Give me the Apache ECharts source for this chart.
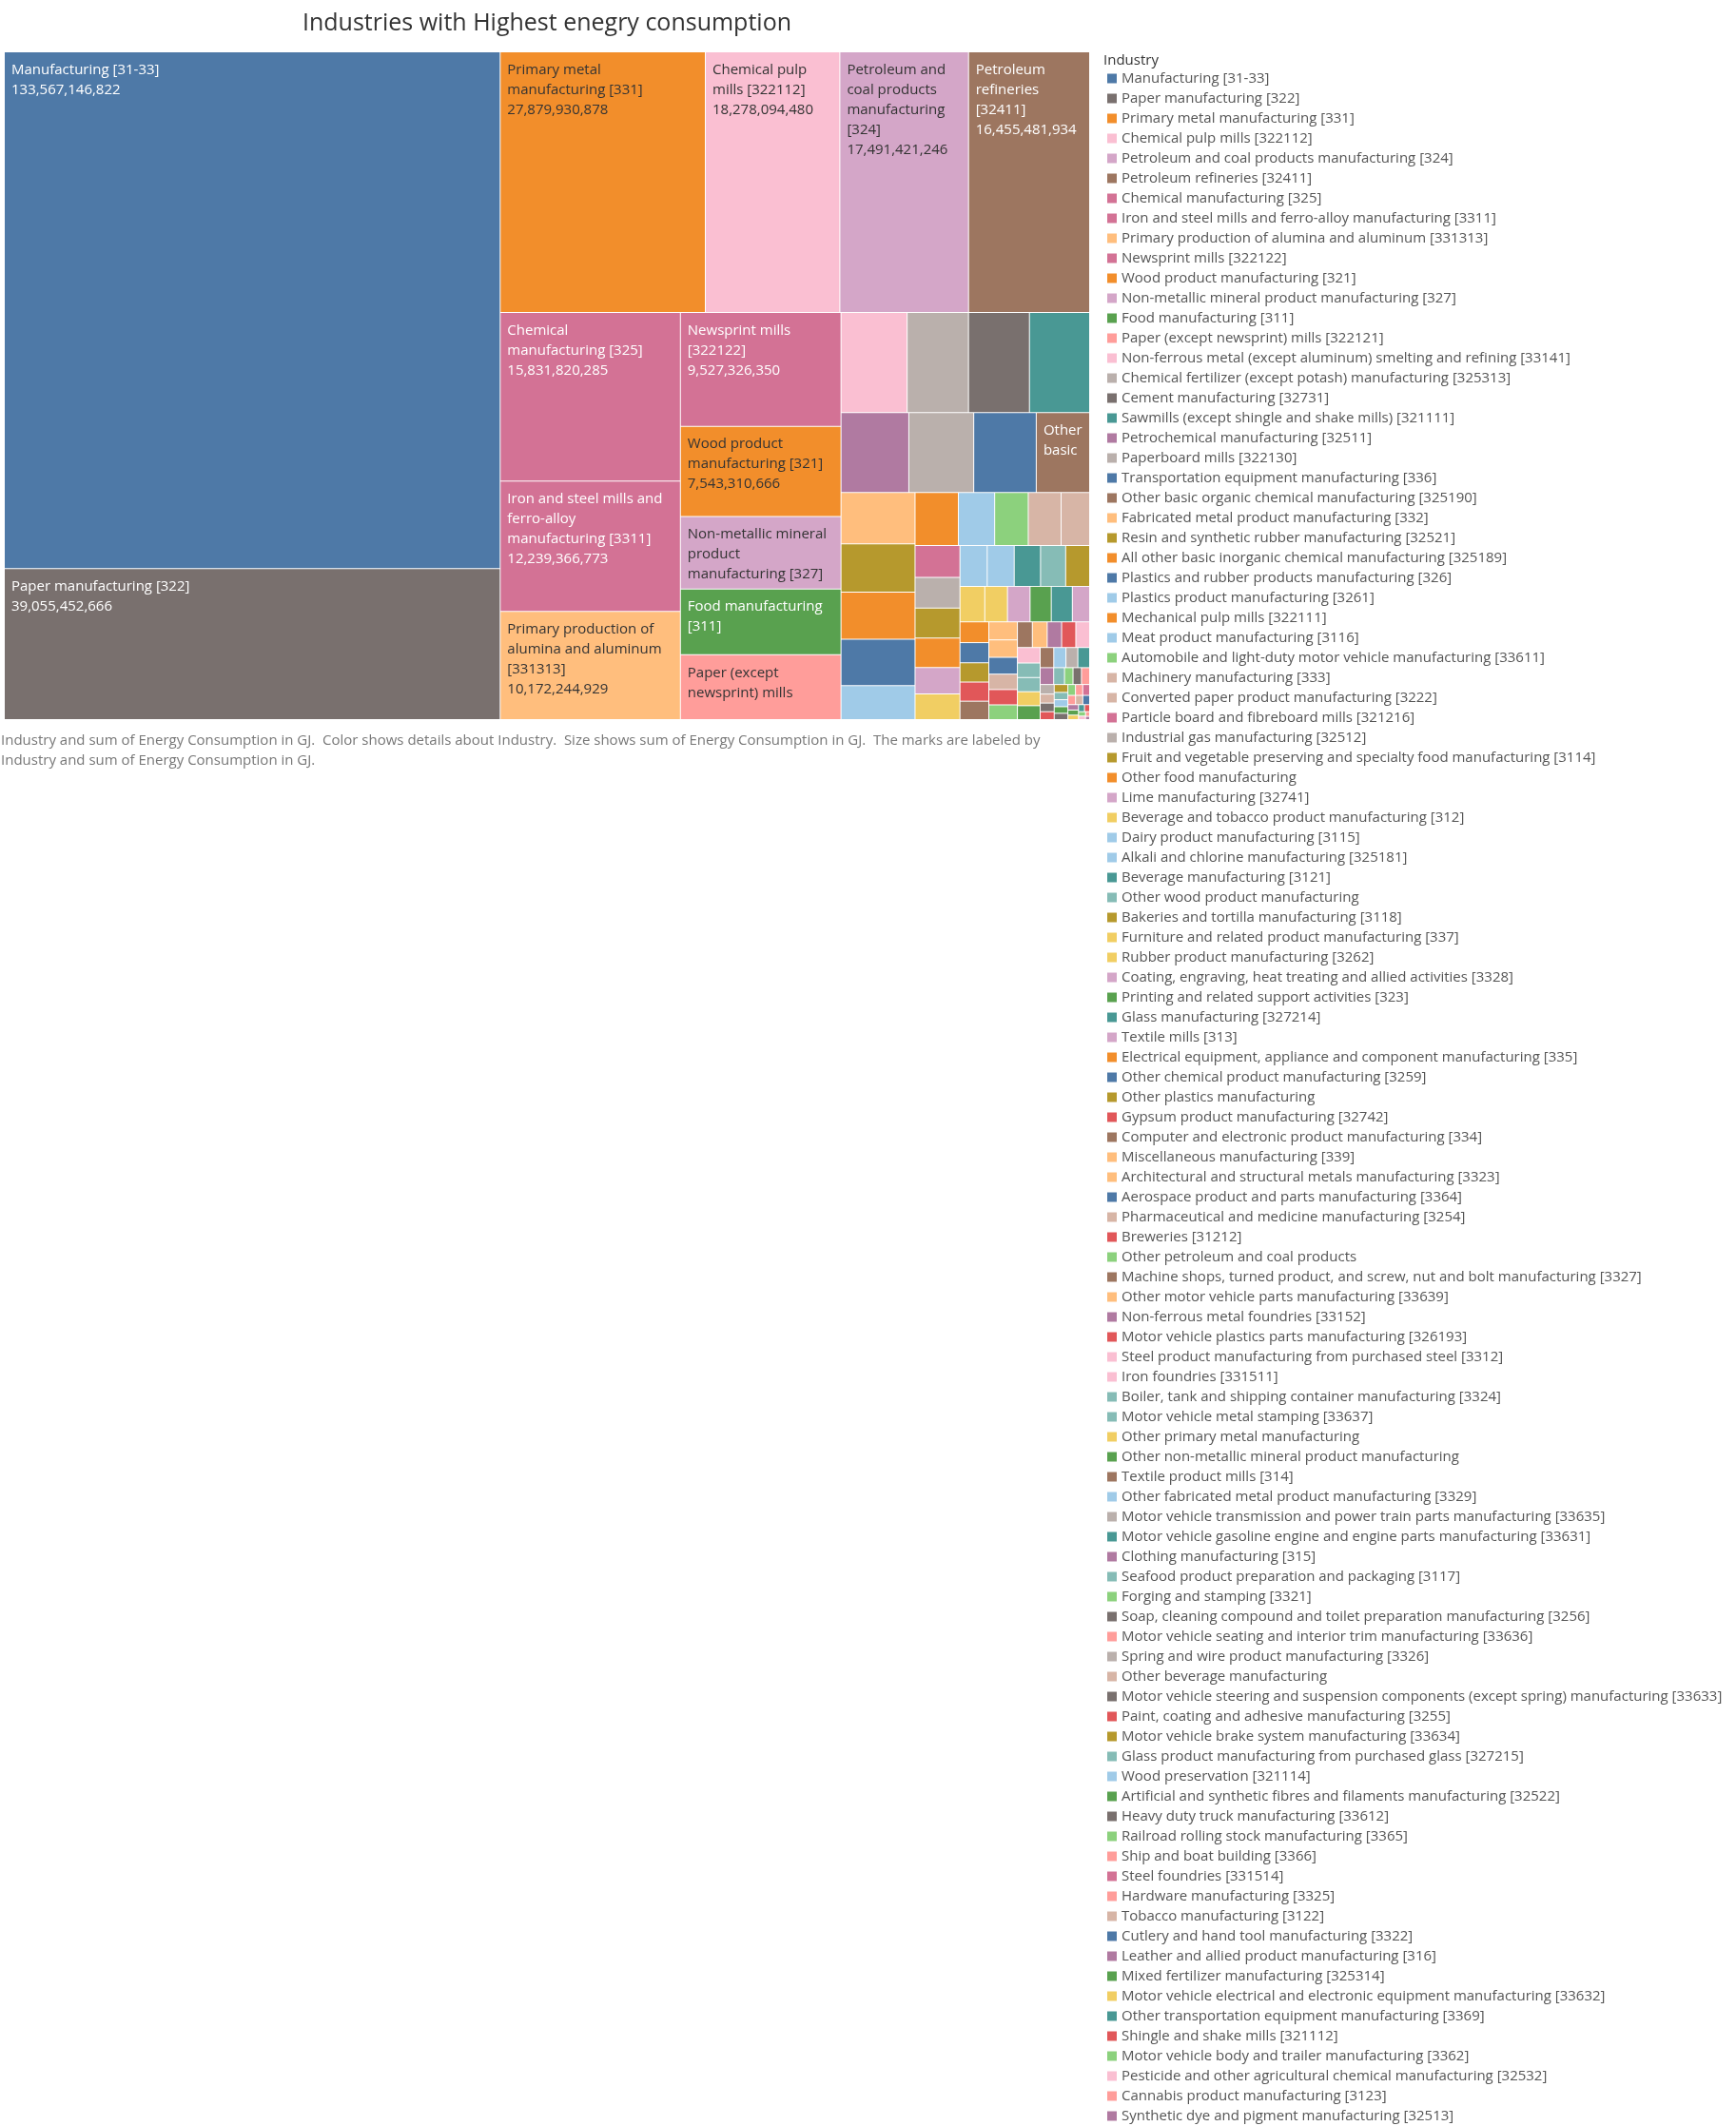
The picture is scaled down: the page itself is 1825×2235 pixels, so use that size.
<!DOCTYPE html>
<html>
<head>
<meta charset="utf-8">
<script src="https://cdn.jsdelivr.net/npm/echarts@6/dist/echarts.min.js"></script>
<style>
html,body{margin:0;padding:0;background:#ffffff;}
#chart{width:1825px;height:2235px;}
</style>
</head>
<body>
<div id="chart"></div>
<script>
// ---------------- DATA ----------------
const chartTitle = 'Industries with Highest enegry consumption';
const legendTitle = 'Industry';
const footnote = 'Industry and sum of Energy Consumption in GJ.  Color shows details about Industry.  Size shows sum of Energy Consumption in GJ.  The marks are labeled by Industry and sum of Energy Consumption in GJ.';

const industries = [
  'Manufacturing [31-33]',
  'Paper manufacturing [322]',
  'Primary metal manufacturing [331]',
  'Chemical pulp mills [322112]',
  'Petroleum and coal products manufacturing [324]',
  'Petroleum refineries [32411]',
  'Chemical manufacturing [325]',
  'Iron and steel mills and ferro-alloy manufacturing [3311]',
  'Primary production of alumina and aluminum [331313]',
  'Newsprint mills [322122]',
  'Wood product manufacturing [321]',
  'Non-metallic mineral product manufacturing [327]',
  'Food manufacturing [311]',
  'Paper (except newsprint) mills [322121]',
  'Non-ferrous metal (except aluminum) smelting and refining [33141]',
  'Chemical fertilizer (except potash) manufacturing [325313]',
  'Cement manufacturing [32731]',
  'Sawmills (except shingle and shake mills) [321111]',
  'Petrochemical manufacturing [32511]',
  'Paperboard mills [322130]',
  'Transportation equipment manufacturing [336]',
  'Other basic organic chemical manufacturing [325190]',
  'Fabricated metal product manufacturing [332]',
  'Resin and synthetic rubber manufacturing [32521]',
  'All other basic inorganic chemical manufacturing [325189]',
  'Plastics and rubber products manufacturing [326]',
  'Plastics product manufacturing [3261]',
  'Mechanical pulp mills [322111]',
  'Meat product manufacturing [3116]',
  'Automobile and light-duty motor vehicle manufacturing [33611]',
  'Machinery manufacturing [333]',
  'Converted paper product manufacturing [3222]',
  'Particle board and fibreboard mills [321216]',
  'Industrial gas manufacturing [32512]',
  'Fruit and vegetable preserving and specialty food manufacturing [3114]',
  'Other food manufacturing',
  'Lime manufacturing [32741]',
  'Beverage and tobacco product manufacturing [312]',
  'Dairy product manufacturing [3115]',
  'Alkali and chlorine manufacturing [325181]',
  'Beverage manufacturing [3121]',
  'Other wood product manufacturing',
  'Bakeries and tortilla manufacturing [3118]',
  'Furniture and related product manufacturing [337]',
  'Rubber product manufacturing [3262]',
  'Coating, engraving, heat treating and allied activities [3328]',
  'Printing and related support activities [323]',
  'Glass manufacturing [327214]',
  'Textile mills [313]',
  'Electrical equipment, appliance and component manufacturing [335]',
  'Other chemical product manufacturing [3259]',
  'Other plastics manufacturing',
  'Gypsum product manufacturing [32742]',
  'Computer and electronic product manufacturing [334]',
  'Miscellaneous manufacturing [339]',
  'Architectural and structural metals manufacturing [3323]',
  'Aerospace product and parts manufacturing [3364]',
  'Pharmaceutical and medicine manufacturing [3254]',
  'Breweries [31212]',
  'Other petroleum and coal products',
  'Machine shops, turned product, and screw, nut and bolt manufacturing [3327]',
  'Other motor vehicle parts manufacturing [33639]',
  'Non-ferrous metal foundries [33152]',
  'Motor vehicle plastics parts manufacturing [326193]',
  'Steel product manufacturing from purchased steel [3312]',
  'Iron foundries [331511]',
  'Boiler, tank and shipping container manufacturing [3324]',
  'Motor vehicle metal stamping [33637]',
  'Other primary metal manufacturing',
  'Other non-metallic mineral product manufacturing',
  'Textile product mills [314]',
  'Other fabricated metal product manufacturing [3329]',
  'Motor vehicle transmission and power train parts manufacturing [33635]',
  'Motor vehicle gasoline engine and engine parts manufacturing [33631]',
  'Clothing manufacturing [315]',
  'Seafood product preparation and packaging [3117]',
  'Forging and stamping [3321]',
  'Soap, cleaning compound and toilet preparation manufacturing [3256]',
  'Motor vehicle seating and interior trim manufacturing [33636]',
  'Spring and wire product manufacturing [3326]',
  'Other beverage manufacturing',
  'Motor vehicle steering and suspension components (except spring) manufacturing [33633]',
  'Paint, coating and adhesive manufacturing [3255]',
  'Motor vehicle brake system manufacturing [33634]',
  'Glass product manufacturing from purchased glass [327215]',
  'Wood preservation [321114]',
  'Artificial and synthetic fibres and filaments manufacturing [32522]',
  'Heavy duty truck manufacturing [33612]',
  'Railroad rolling stock manufacturing [3365]',
  'Ship and boat building [3366]',
  'Steel foundries [331514]',
  'Hardware manufacturing [3325]',
  'Tobacco manufacturing [3122]',
  'Cutlery and hand tool manufacturing [3322]',
  'Leather and allied product manufacturing [316]',
  'Mixed fertilizer manufacturing [325314]',
  'Motor vehicle electrical and electronic equipment manufacturing [33632]',
  'Other transportation equipment manufacturing [3369]',
  'Shingle and shake mills [321112]',
  'Motor vehicle body and trailer manufacturing [3362]',
  'Pesticide and other agricultural chemical manufacturing [32532]',
  'Cannabis product manufacturing [3123]',
  'Synthetic dye and pigment manufacturing [32513]'
];

// Sum of Energy Consumption in GJ (labelled values exact, others)
const energyGJ = [
  133567146822, 39055452666, 27879930878, 18278094480, 17491421246,
  16455481934, 15831820285, 12239366773, 10172244929, 9527326350,
  7543310666, 6070000000, 5510000000, 5430000000, 3450000000,
  3200000000, 3180000000, 3140000000, 2820000000, 2700000000,
  2600000000, 2220000000, 1990000000, 1860000000, 1820000000,
  1790000000, 1310000000, 1200000000, 1005000000, 930000000,
  910000000, 790000000, 745000000, 720000000, 700000000,
  690000000, 620000000, 600000000, 580000000, 575000000,
  560000000, 535000000, 510000000, 459000000, 420000000,
  418000000, 392000000, 390000000, 320000000, 313000000,
  303000000, 290000000, 288000000, 277000000, 269000000,
  260000000, 250000000, 230000000, 228000000, 220000000,
  200000000, 199000000, 193000000, 190000000, 185000000,
  184000000, 172000000, 168000000, 166000000, 165000000,
  143000000, 128000000, 125000000, 124000000, 119000000,
  95000000, 75000000, 74000000, 72000000, 70000000,
  66000000, 63000000, 58000000, 56000000, 52000000,
  50000000, 47000000, 45000000, 43000000, 41000000,
  39000000, 37000000, 35000000, 33000000, 30000000,
  28000000, 25000000, 22000000, 19000000, 16000000,
  13000000, 10000000, 7000000
];

// ---------------- STYLE ----------------
const palette = {
  blue:'#4e79a7', lblue:'#a0cbe8', orange:'#f28e2b', lorange:'#ffbe7d',
  green:'#59a14f', lgreen:'#8cd17d', olive:'#b6992d', yellow:'#f1ce63',
  teal:'#499894', lteal:'#86bcb6', red:'#e15759', salmon:'#ff9d9a',
  dgray:'#79706e', lgray:'#bab0ac', pink:'#d37295', lpink:'#fabfd2',
  purple:'#b07aa1', lpurple:'#d4a6c8', brown:'#9d7660', tan:'#d7b5a6'
};
const colorKeys = [
  'blue','dgray','orange','lpink','lpurple','brown','pink','pink','lorange','pink',
  'orange','lpurple','green','salmon','lpink','lgray','dgray','teal','purple','lgray',
  'blue','brown','lorange','olive','orange','blue','lblue','orange','lblue','lgreen',
  'tan','tan','pink','lgray','olive','orange','lpurple','yellow','lblue','lblue',
  'teal','lteal','olive','yellow','yellow','lpurple','green','teal','lpurple','orange',
  'blue','olive','red','brown','lorange','lorange','blue','tan','red','lgreen',
  'brown','lorange','purple','red','lpink','lpink','lteal','lteal','yellow','green',
  'brown','lblue','lgray','teal','purple','lteal','lgreen','dgray','salmon','lgray',
  'tan','dgray','red','olive','lteal','lblue','green','dgray','lgreen','salmon',
  'pink','salmon','tan','blue','purple','green','yellow','teal','red','lgreen',
  'lpink','salmon','purple'
];
const whiteTextKeys = new Set(['blue','dgray','brown','pink','green','purple','teal','red','olive']);
const labelledCount = 14;
const extraLabelled = new Set([21]);
// per-cell label padding tweaks (text wrapping only)
const labelPaddingOverrides = { 11: [8, 4, 4, 7], 21: [8, 2, 22, 7] };

const FONT = '"Open Sans", Lato, sans-serif';
const fmt = v => Math.round(v).toLocaleString('en-US');

const treemapData = industries.map((name, i) => {
  const key = colorKeys[i];
  const lbl = {
    show: i < labelledCount || extraLabelled.has(i),
    color: whiteTextKeys.has(key) ? '#ffffff' : '#333333'
  };
  if (labelPaddingOverrides[i]) lbl.padding = labelPaddingOverrides[i];
  return {
    name: name,
    value: energyGJ[i],
    itemStyle: { color: palette[key] },
    label: lbl
  };
});

const pieData = industries.map((name, i) => ({
  name: name,
  value: energyGJ[i],
  itemStyle: { color: palette[colorKeys[i]] }
}));

const chart = echarts.init(document.getElementById('chart'), null, { renderer: 'canvas' });
chart.setOption({
  animation: false,
  backgroundColor: '#ffffff',
  title: [
    {
      text: chartTitle,
      left: 570, top: 7, textAlign: 'center',
      textStyle: { fontFamily: FONT, fontSize: 25, fontWeight: 'normal', color: '#333333' }
    },
    {
      text: legendTitle,
      left: 1155, top: 51,
      textStyle: { fontFamily: FONT, fontSize: 15, fontWeight: 'normal', color: '#333333' }
    },
    {
      text: footnote,
      left: 1, top: 768, padding: 0,
      textStyle: { fontFamily: FONT, fontSize: 15, fontWeight: 'normal', color: '#777777',
                   width: 1125, overflow: 'break', lineHeight: 21 }
    }
  ],
  legend: {
    orient: 'vertical',
    left: 1164, top: 72, bottom: 0, padding: 0,
    itemWidth: 10, itemHeight: 10, itemGap: 0,
    icon: 'rect',
    selectedMode: false,
    data: industries,
    itemStyle: { borderWidth: 0 },
    textStyle: { fontFamily: FONT, fontSize: 15, color: '#555555', lineHeight: 21 }
  },
  series: [
    {
      type: 'treemap',
      left: 5, top: 55, width: 1140, height: 701,
      roam: false,
      nodeClick: false,
      breadcrumb: { show: false },
      visibleMin: 0,
      itemStyle: { borderWidth: 0, gapWidth: 1, borderColor: '#ffffff' },
      upperLabel: { show: false },
      label: {
        show: true,
        position: 'insideTopLeft',
        distance: 0,
        padding: [8, 12, 4, 7],
        fontFamily: FONT,
        fontSize: 15,
        lineHeight: 21,
        overflow: 'break',
        formatter: p => p.name + '\n' + fmt(p.value)
      },
      emphasis: { disabled: true },
      data: treemapData
    },
    {
      type: 'pie',
      radius: [0, 0],
      center: [-100, -100],
      silent: true,
      label: { show: false },
      labelLine: { show: false },
      data: pieData
    }
  ]
});
</script>
</body>
</html>
